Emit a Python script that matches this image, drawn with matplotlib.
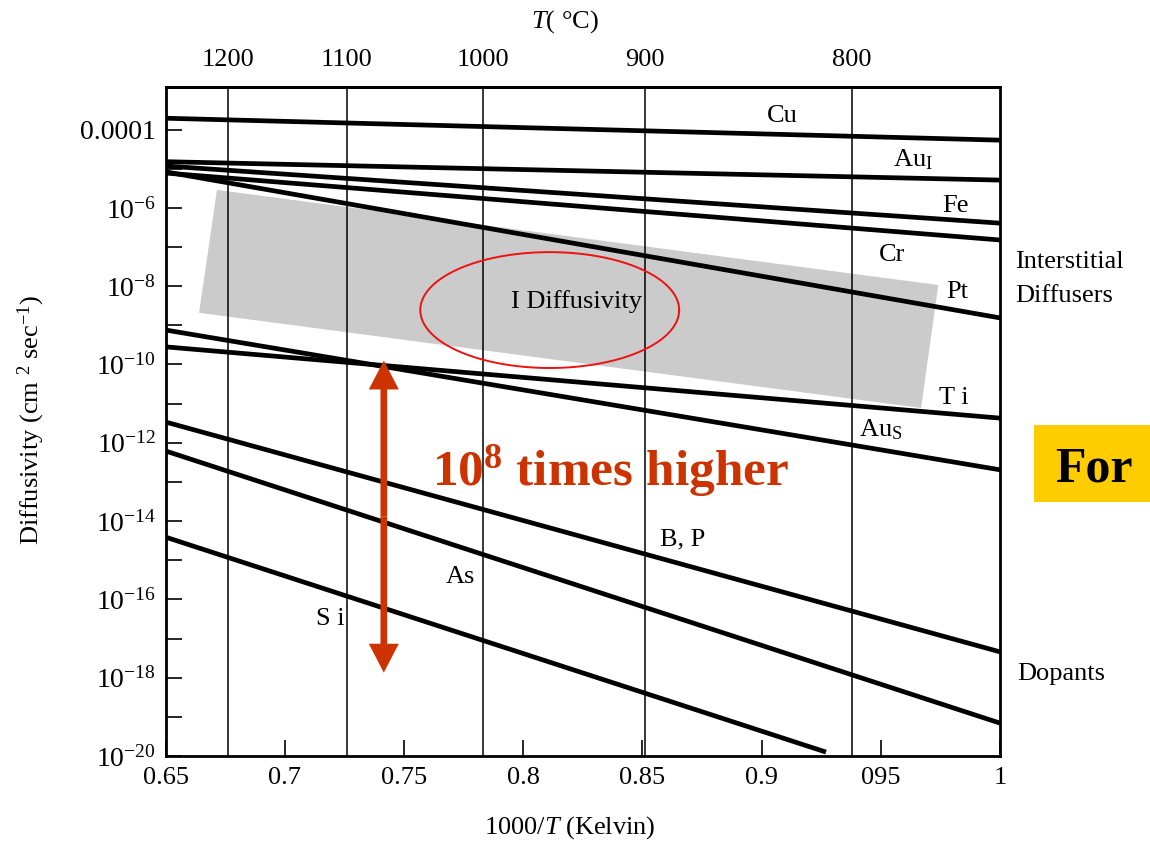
import numpy as np
import matplotlib
matplotlib.use('Agg')
import matplotlib.pyplot as plt
from matplotlib.patches import Rectangle, Polygon

plt.rcParams['font.family'] = ['Liberation Serif', 'DejaVu Serif']
plt.rcParams['mathtext.fontset'] = 'custom'
plt.rcParams['mathtext.rm'] = 'Liberation Serif'
plt.rcParams['mathtext.it'] = 'Liberation Serif:italic'
plt.rcParams['mathtext.bf'] = 'Liberation Serif:bold'
plt.rcParams['hatch.color'] = '#9c9c9c'
plt.rcParams['hatch.linewidth'] = 0.6

# diffusivity lines, log10(D) at the two ends
species = ['Cu', 'AuI', 'Fe', 'Cr', 'Pt', 'Ti', 'AuS', 'B,P', 'As', 'Si']
x_start = [0.65, 0.65, 0.65, 0.65, 0.65, 0.65, 0.65, 0.65, 0.65, 0.65]
x_end = [1.0, 1.0, 1.0, 1.0, 1.0, 1.0, 1.0, 1.0, 1.0, 0.927]
logd_start = [-3.71, -4.82, -4.93, -5.11, -5.08, -9.55, -9.12, -11.47, -12.21, -14.41]
logd_end = [-4.27, -5.29, -6.39, -6.82, -8.81, -11.37, -12.69, -17.34, -19.16, -19.90]

# curve labels (centre x, baseline log10 D)
label_text = ['Cu', r'Au$_{\rm I}$', 'Fe', 'Cr', 'Pt', 'T i', r'Au$_{\rm S}$',
              'B, P', 'As', 'S i']
label_x = [0.9088, 0.9636, 0.9813, 0.9547, 0.9819, 0.9808, 0.9501, 0.8669, 0.7738, 0.7190]
label_logd = [-3.80, -4.95, -6.10, -7.35, -8.31, -11.01, -11.84, -14.61, -15.59, -16.65]

# temperature grid (top axis)
temp_c = [1200, 1100, 1000, 900, 800]
temp_x = [0.6763, 0.7260, 0.7833, 0.8511, 0.9379]

# shaded band of interstitial diffusivity
shade_x = [0.6715, 0.6640, 0.9669, 0.9741]
shade_logd = [-5.54, -8.68, -11.11, -7.97]

x_ticks = [0.65, 0.7, 0.75, 0.8, 0.85, 0.9, 0.95, 1.0]
x_ticklabels = ['0.65', '0.7', '0.75', '0.8', '0.85', '0.9', '095', '1']
y_decades = list(range(-20, -3))

red = '#cc3300'

fig = plt.figure(figsize=(11.5, 8.43), dpi=100)
ax = fig.add_axes([165.7 / 1150, 1 - 756 / 843, (1000 - 165.7) / 1150, (756 - 87.3) / 843])
ax.set_yscale('log')
ax.set_xlim(0.65, 1.0)
ax.set_ylim(1e-20, 10 ** -2.92)

# shaded region
pts = np.column_stack([shade_x, 10.0 ** np.array(shade_logd)])
ax.add_patch(Polygon(pts, closed=True, facecolor='#cbcbcb', edgecolor='none',
                     hatch='....', lw=0, zorder=1))

# vertical temperature lines
for xv in temp_x:
    ax.axvline(xv, color='black', lw=1.1, zorder=2)

# diffusivity lines
for i in range(len(species)):
    ax.plot([x_start[i], x_end[i]], [10 ** logd_start[i], 10 ** logd_end[i]],
            color='black', lw=3.4, solid_capstyle='butt', zorder=3)

for t, xl, yl in zip(label_text, label_x, label_logd):
    ax.text(xl, 10 ** yl, t, ha='center', va='baseline', fontsize=19, zorder=4)

ax.text(0.8222, 10 ** -8.56, 'I Diffusivity', ha='center', va='baseline', fontsize=19, zorder=4)

# red ellipse around the band
t = np.linspace(0, 2 * np.pi, 300)
ax.plot(0.8111 + 0.0543 * np.cos(t), 10 ** (-8.61 + 1.48 * np.sin(t)),
        color='#ee1111', lw=1.4, zorder=5)

# double arrow (two filled arrows from the middle outwards) and red note
arrow_x = 0.7415
arrow_top = -9.90
arrow_bot = -17.87
arrow_mid = 0.5 * (arrow_top + arrow_bot)
for end in (arrow_top, arrow_bot):
    ax.annotate('', xy=(arrow_x, 10 ** end), xytext=(arrow_x, 10 ** arrow_mid),
                arrowprops=dict(arrowstyle='simple,head_length=1.04,head_width=1.08,tail_width=0.24',
                                mutation_scale=20, lw=0, color=red,
                                shrinkA=0, shrinkB=0), zorder=6)
ax.text(0.7617, 10 ** -13.08, r'$\mathbf{10^{8}}$ times higher', color=red,
        fontsize=37, fontweight='bold', ha='left', va='baseline', zorder=6)

# right-hand group labels
ax.text(1.0064, 10 ** -7.54, 'Interstitial', fontsize=19, ha='left', va='baseline', clip_on=False)
ax.text(1.0064, 10 ** -8.40, 'Diffusers', fontsize=19, ha='left', va='baseline', clip_on=False)
ax.text(1.0071, 10 ** -18.06, 'Dopants', fontsize=19, ha='left', va='baseline', clip_on=False)

# axes styling
ax.set_xticks(x_ticks, x_ticklabels)
ax.set_yticks([10.0 ** d for d in y_decades])
ylabels = []
for d in y_decades:
    if d == -4:
        ylabels.append('0.0001')
    elif d % 2 == 0:
        ylabels.append(r'$10^{%d}$' % d)
    else:
        ylabels.append('')
ax.set_yticklabels(ylabels)
ax.yaxis.set_minor_locator(matplotlib.ticker.NullLocator())
ax.tick_params(axis='x', direction='in', length=11.5, width=1.2, pad=8, labelsize=19)
ax.tick_params(axis='y', direction='in', length=11.5, width=1.2, pad=7, labelsize=20)
for s in ax.spines.values():
    s.set_linewidth(2.0)

secax = ax.secondary_xaxis('top')
secax.set_xticks(temp_x, [str(c) for c in temp_c])
secax.tick_params(length=0, pad=12, labelsize=19)
secax.spines['top'].set_linewidth(2.0)

fig.text(565 / 1150, 1 - 22 / 843, r'$T$( °C)', ha='center', va='center', fontsize=19)
fig.text(570 / 1150, 1 - 828 / 843, r'1000/$T$ (Kelvin)', ha='center', va='center', fontsize=19)
fig.text(31 / 1150, 1 - 420 / 843, r'Diffusivity (cm $^{2}$ sec$^{-1}$)', rotation=90,
         ha='center', va='center', fontsize=19)

# yellow box cut at the right edge
fig.patches.append(Rectangle((1034 / 1150, 1 - 501.7 / 843), 0.2, 76.7 / 843,
                             transform=fig.transFigure, facecolor='#ffcc00',
                             edgecolor='none', zorder=0))
fig.text(1055 / 1150, 1 - 481 / 843, 'For', fontsize=36, fontweight='bold',
         ha='left', va='baseline')

fig.savefig('out.png', dpi=100)
